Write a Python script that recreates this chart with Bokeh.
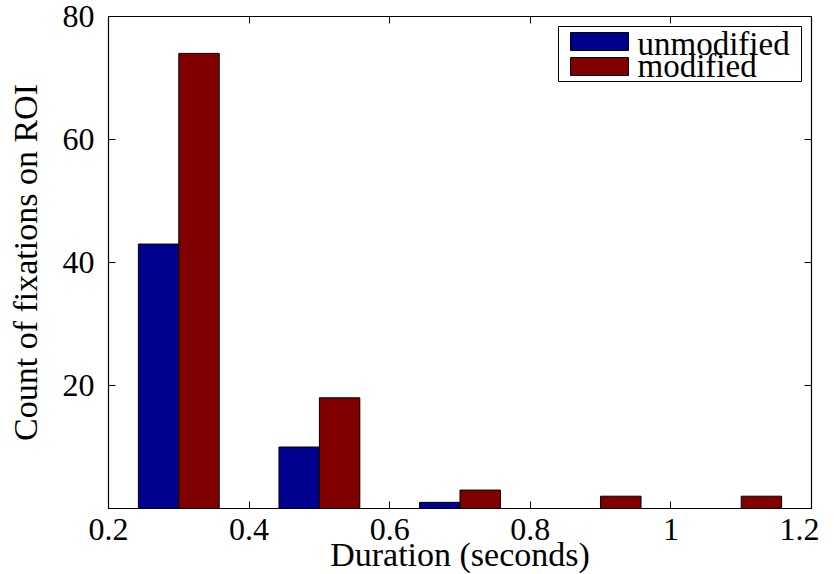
from bokeh.plotting import figure
from bokeh.models import LinearAxis, FixedTicker, ColumnDataSource, Range1d, CustomJSTickFormatter, BoxAnnotation, Label
from bokeh.transform import dodge
from bokeh.embed import file_html
from bokeh.resources import INLINE

# data
bin_centers = [0.3, 0.5, 0.7, 0.9, 1.1]
unmodified = [43, 10, 1, 0, 0]
modified = [74, 18, 3, 2, 2]
series_names = ["unmodified", "modified"]
x_ticks = [0.2, 0.4, 0.6, 0.8, 1.0, 1.2]
x_tick_labels = ["0.2", "0.4", "0.6", "0.8", "1", "1.2"]
y_ticks = [20, 40, 60, 80]

FONT = "Liberation Serif, DejaVu Serif, Times New Roman, serif"
BLUE = "#00008F"
RED = "#800000"
BAR_W = 0.0575
FW, FH = 703, 492

src = ColumnDataSource(dict(x=bin_centers, u=unmodified, m=modified))

p = figure(frame_width=FW, frame_height=FH, output_backend="svg", toolbar_location=None,
           x_range=Range1d(0.2, 1.2), y_range=Range1d(0, 80),
           min_border_left=108, min_border_top=16, min_border_right=8, min_border_bottom=40)
p.grid.visible = False
p.outline_line_color = "black"
p.outline_line_width = 1.2
p.background_fill_color = "white"
p.border_fill_color = "white"

r1 = p.vbar(x=dodge("x", -BAR_W / 2, range=p.x_range), top="u", width=BAR_W, bottom=0,
            source=src, fill_color=BLUE, line_color="black", line_width=1)
r2 = p.vbar(x=dodge("x", BAR_W / 2, range=p.x_range), top="m", width=BAR_W, bottom=0,
            source=src, fill_color=RED, line_color="black", line_width=1)

def style_axis(ax, labels=True):
    ax.major_tick_in = 7
    ax.major_tick_out = 0
    ax.minor_tick_line_color = None
    ax.axis_line_color = "black"
    ax.major_tick_line_color = "black"
    ax.major_label_text_font = FONT
    ax.major_label_text_font_size = "32px"
    ax.major_label_text_color = "black"
    ax.axis_label_text_font = FONT
    ax.axis_label_text_font_size = "34px"
    ax.axis_label_text_font_style = "normal"
    ax.axis_label_text_color = "black"
    if not labels:
        ax.formatter = CustomJSTickFormatter(code="return ''")
        ax.major_label_standoff = 0

xt = FixedTicker(ticks=x_ticks)
yt = FixedTicker(ticks=y_ticks)

p.xaxis.ticker = xt
p.yaxis.ticker = yt
p.xaxis.major_label_overrides = {t: l for t, l in zip(x_ticks, x_tick_labels)}
p.xaxis.axis_label = "Duration (seconds)"
p.yaxis.axis_label = "Count of fixations on ROI"
style_axis(p.xaxis[0])
style_axis(p.yaxis[0])
p.xaxis.major_label_standoff = 10
p.xaxis.axis_label_standoff = -7
p.yaxis.major_label_standoff = 14
p.yaxis.axis_label_standoff = 16

top_ax = LinearAxis(ticker=xt)
right_ax = LinearAxis(ticker=yt)
style_axis(top_ax, labels=False)
style_axis(right_ax, labels=False)
p.add_layout(top_ax, "above")
p.add_layout(right_ax, "right")

# legend (screen units, relative to the frame's bottom-left corner)
LB_W, LB_H = 243, 55
lb_right = FW - 10
lb_top = FH - 10
lb_left = lb_right - LB_W
p.add_layout(BoxAnnotation(left=lb_left, right=lb_right, top=lb_top, bottom=lb_top - LB_H,
                           left_units="screen", right_units="screen", top_units="screen",
                           bottom_units="screen", fill_color="white", fill_alpha=1,
                           line_color="black", line_width=1, line_alpha=1))
for i, (name, col) in enumerate(zip(series_names, [BLUE, RED])):
    sw_top = lb_top - 6 - i * 25
    p.add_layout(BoxAnnotation(left=lb_left + 12, right=lb_left + 70, top=sw_top, bottom=sw_top - 18,
                               left_units="screen", right_units="screen", top_units="screen",
                               bottom_units="screen", fill_color=col, fill_alpha=1,
                               line_color="black", line_width=1, line_alpha=1))
    p.add_layout(Label(x=lb_left + 79, y=sw_top - 11 + i * 3, x_units="screen", y_units="screen",
                       text=name, text_font=FONT, text_font_size="33px", text_color="black",
                       text_baseline="alphabetic", text_align="left"))

open("out.html", "w").write(file_html(p, INLINE))
